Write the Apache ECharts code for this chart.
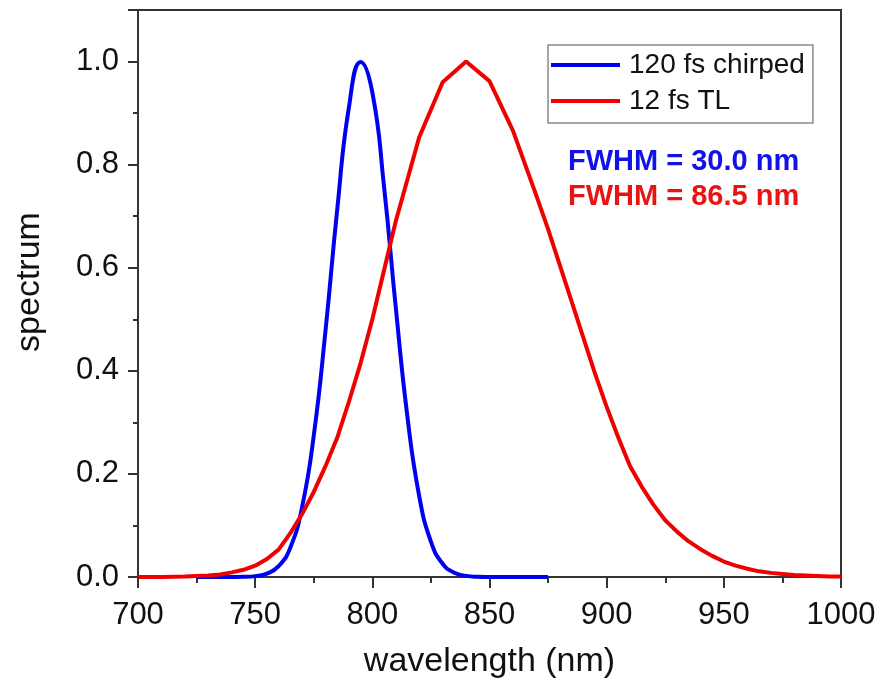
<!DOCTYPE html>
<html>
<head>
<meta charset="utf-8">
<script src="https://cdn.jsdelivr.net/npm/echarts@6/dist/echarts.min.js"></script>
<style>html,body{margin:0;padding:0;background:#fff;}#c{width:886px;height:688px;}</style>
</head>
<body>
<div id="c"></div>
<script>
// wavelength (nm) and normalized spectrum
var blueWl  = [725,730,735,740,745,750,755,760,765,770,775,780,785,790,795,800,805,810,815,820,825,830,835,840,845,850,855,860,865,870,875];
var blueVal = [0,0,0.00001,0.0001,0.0004,0.0017,0.0064,0.021,0.057,0.135,0.274,0.477,0.712,0.911,0.999,0.940,0.757,0.523,0.310,0.157,0.0685,0.0256,0.0082,0.0022,0.0005,0.0001,0,0,0,0,0];
var redWl  = [700,710,720,725,730,735,740,745,750,755,760,765,770,775,780,785,790,795,800,810,820,830,840,850,860,870,875,880,885,890,895,900,905,910,915,920,925,930,935,940,945,950,955,960,965,970,975,980,985,990,995,1000];
var redVal = [0,0,0.001,0.002,0.003,0.005,0.009,0.014,0.022,0.035,0.053,0.085,0.122,0.165,0.215,0.27,0.34,0.415,0.50,0.69,0.853,0.96,1.0,0.962,0.866,0.74,0.675,0.605,0.535,0.465,0.395,0.33,0.27,0.215,0.175,0.14,0.11,0.088,0.069,0.054,0.041,0.030,0.022,0.016,0.011,0.008,0.006,0.004,0.003,0.002,0.001,0.001];
var xTicks = [700,750,800,850,900,950,1000];
var yTicks = [0,0.2,0.4,0.6,0.8,1.0];
var seriesNames = ['120 fs chirped','12 fs TL'];
var fwhmTexts = ['FWHM = 30.0 nm','FWHM = 86.5 nm'];

var FONT = "'Liberation Sans', Arial, sans-serif";
var BLUE = '#0000f0', RED = '#f00000';
function pairs(xs, ys){ return xs.map(function(x,i){ return [x, ys[i]]; }); }

var chart = echarts.init(document.getElementById('c'), null, {renderer:'canvas'});
chart.setOption({
  backgroundColor:'#fff',
  animation:false,
  grid:{left:138,right:45,top:10,bottom:111,show:true,borderColor:'#333',borderWidth:2,backgroundColor:'transparent'},
  xAxis:{
    type:'value',min:700,max:1000,interval:50,
    name:'wavelength (nm)',nameLocation:'middle',nameGap:68,
    nameTextStyle:{fontFamily:FONT,fontSize:34,color:'#111'},
    axisLine:{show:true,lineStyle:{color:'#333',width:2}},
    axisTick:{show:true,length:11,lineStyle:{color:'#333',width:2}},
    minorTick:{show:true,splitNumber:2,length:6,lineStyle:{color:'#333',width:2}},
    axisLabel:{fontFamily:FONT,fontSize:31,color:'#111',margin:23,
      formatter:function(v){return xTicks.indexOf(v) >= 0 ? String(v) : '';}},
    splitLine:{show:false}
  },
  yAxis:{
    type:'value',min:0,max:1.1,interval:0.2,position:'left',
    axisLine:{show:true,onZero:false,lineStyle:{color:'#333',width:2}},
    axisTick:{show:true,length:10,lineStyle:{color:'#333',width:2}},
    minorTick:{show:true,splitNumber:2,length:5,lineStyle:{color:'#333',width:2}},
    axisLabel:{fontFamily:FONT,fontSize:31,color:'#111',margin:19,
      formatter:function(v){
        for (var i=0;i<yTicks.length;i++){ if (Math.abs(yTicks[i]-v)<1e-6) return v.toFixed(1); }
        return '';
      }},
    splitLine:{show:false}
  },
  legend:{
    orient:'vertical',left:548,top:45,
    data:seriesNames,
    icon:'rect',itemWidth:69,itemHeight:4,itemGap:6,
    padding:[5,8,7,3],
    borderColor:'#8a8a8a',borderWidth:1.5,
    textStyle:{fontFamily:FONT,fontSize:28,color:'#111',lineHeight:30,padding:[0,0,0,4]}
  },
  series:[{
    name:seriesNames[0],type:'line',data:pairs(blueWl,blueVal),
    showSymbol:false,symbol:'none',smooth:0.5,
    lineStyle:{color:BLUE,width:4},itemStyle:{color:BLUE},z:3
  },{
    name:seriesNames[1],type:'line',data:pairs(redWl,redVal),
    showSymbol:false,symbol:'none',smooth:false,
    lineStyle:{color:RED,width:4},itemStyle:{color:RED},z:4
  }],
  graphic:[{
    type:'text',left:568,top:147,
    style:{text:fwhmTexts[0],font:"bold 29px 'Liberation Sans', Arial, sans-serif",fill:'#1212e6'}
  },{
    type:'text',left:568,top:182,
    style:{text:fwhmTexts[1],font:"bold 29px 'Liberation Sans', Arial, sans-serif",fill:'#e81414'}
  },{
    type:'text',x:30,y:282,rotation:Math.PI/2,
    style:{text:'spectrum',font:"34px 'Liberation Sans', Arial, sans-serif",fill:'#111',align:'center',verticalAlign:'middle'}
  }]
});
</script>
</body>
</html>
